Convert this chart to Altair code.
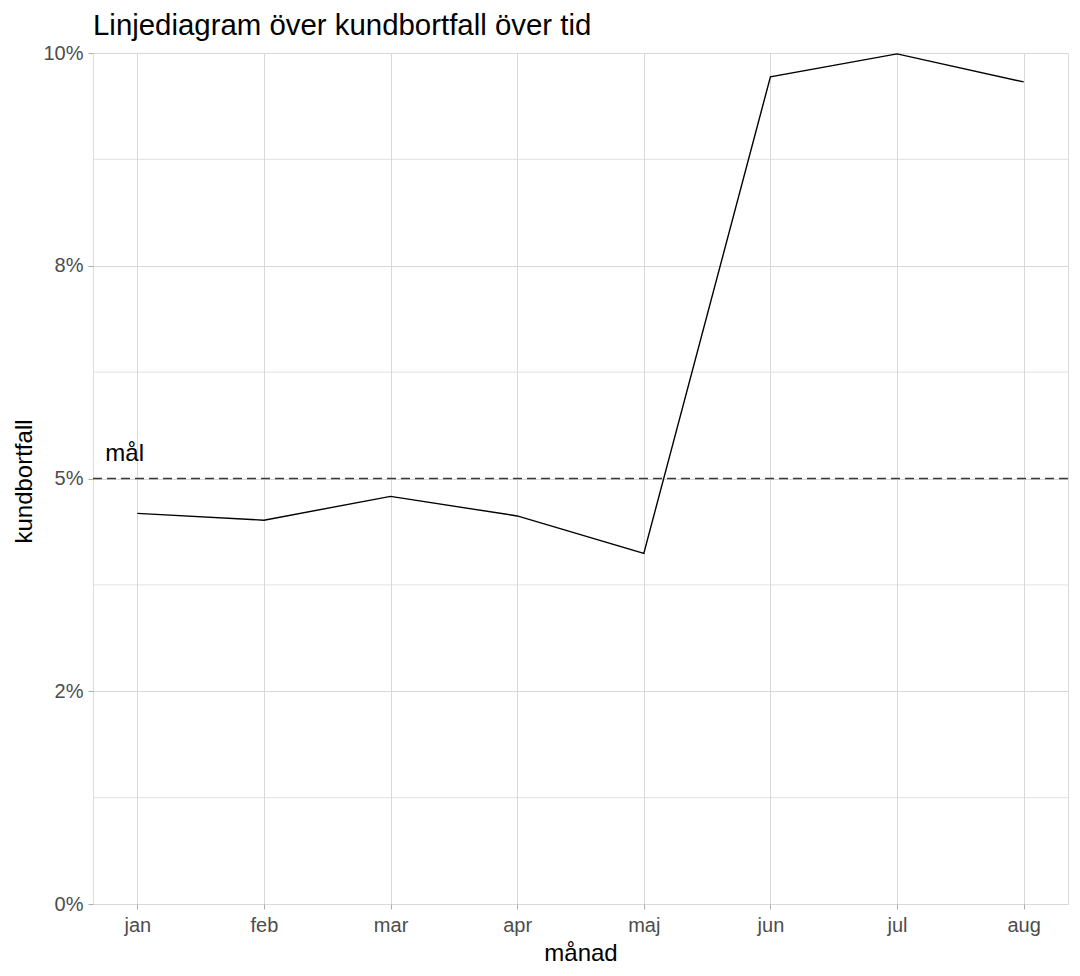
import json
import altair as alt
import pandas as pd

# ---- data ----
months = ["jan", "feb", "mar", "apr", "maj", "jun", "jul", "aug"]
month_num = [1, 2, 3, 4, 5, 6, 7, 8]
churn = [4.59, 4.51, 4.79, 4.56, 4.12, 9.72, 9.99, 9.66]   # percent
target = [5.0]
target_label = ["mål"]
label_x = [0.9]
label_y = [5.2]
y_major = [0, 2.5, 5, 7.5, 10]
y_major_labels = ["0%", "2%", "5%", "8%", "10%"]
y_minor = [1.25, 3.75, 6.25, 8.75]

df = pd.DataFrame({"nr": month_num, "manad": months, "kundbortfall": churn})
df_target = pd.DataFrame({"y": target})
df_label = pd.DataFrame({"x": label_x, "y": label_y, "t": target_label})
df_minor = pd.DataFrame({"y": y_minor})

FONT = "Liberation Sans"
GRID = "#d9d9d9"
BORDER = "#adadad"

x_label_expr = f"{json.dumps(months)}[round(datum.value) - 1]"
y_label_expr = f"{json.dumps(y_major_labels)}[indexof({json.dumps(y_major)}, datum.value)]"

x_scale = alt.Scale(domain=[0.65, 8.35], nice=False, zero=False)
y_scale = alt.Scale(domain=[0, 10], nice=False)

x_axis = alt.Axis(
    title="månad", values=month_num, labelExpr=x_label_expr,
    grid=True, gridColor=GRID, gridWidth=1, domain=False,
    tickColor=BORDER, tickSize=5, tickWidth=1,
    labelFont=FONT, labelFontSize=20, labelColor="#4d4d4d", labelPadding=6,
    titleFont=FONT, titleFontSize=24, titleFontWeight="normal", titleColor="#000000",
    titleBaseline="alphabetic", titleY=56,
)
y_axis = alt.Axis(
    title="kundbortfall", values=y_major, labelExpr=y_label_expr,
    grid=True, gridColor=GRID, gridWidth=1, domain=False,
    tickColor=BORDER, tickSize=5, tickWidth=1,
    labelFont=FONT, labelFontSize=20, labelColor="#4d4d4d", labelPadding=5,
    titleFont=FONT, titleFontSize=24, titleFontWeight="normal", titleColor="#000000",
    titleAngle=270, titleBaseline="alphabetic", titleX=-62, titleY=428, titleAlign="center",
)

minor = alt.Chart(df_minor).mark_rule(color=GRID, strokeWidth=0.8).encode(
    y=alt.Y("y:Q", scale=y_scale, axis=y_axis)
)

line = alt.Chart(df).mark_line(color="#000000", strokeWidth=1.4).encode(
    x=alt.X("nr:Q", scale=x_scale, axis=x_axis),
    y=alt.Y("kundbortfall:Q", scale=y_scale, axis=y_axis),
)

rule = alt.Chart(df_target).mark_rule(color="#3a3a3a", strokeWidth=1.3, strokeDash=[9, 5]).encode(
    y=alt.Y("y:Q", scale=y_scale, axis=y_axis)
)

text = alt.Chart(df_label).mark_text(
    font=FONT, fontSize=24, color="#000000", align="center", baseline="alphabetic"
).encode(
    x=alt.X("x:Q", scale=x_scale, axis=x_axis),
    y=alt.Y("y:Q", scale=y_scale, axis=y_axis),
    text="t:N",
)

chart = alt.layer(minor, line, rule, text).properties(
    width=975,
    height=851,
    autosize=alt.AutoSizeParams(type="none"),
    padding={"left": 85, "top": 45, "right": 2, "bottom": 60},
    title=alt.TitleParams(
        text="Linjediagram över kundbortfall över tid",
        anchor="start", frame="group", font=FONT, fontSize=29.4,
        fontWeight="normal", color="#000000", offset=2,
    ),
).configure_view(
    stroke=BORDER, strokeWidth=1.3
).configure(background="#ffffff")

chart.save("out.html", embed_options={"renderer": "svg", "actions": False})
